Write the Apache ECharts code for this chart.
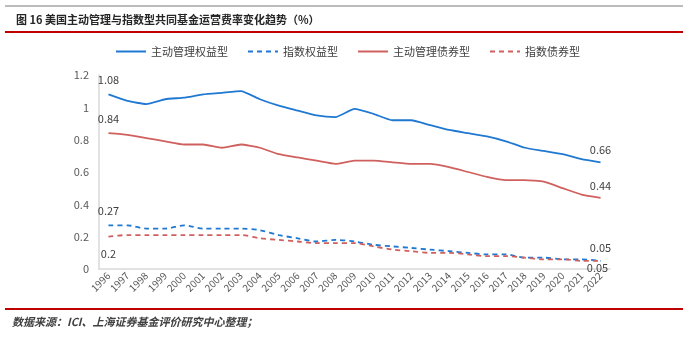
<!DOCTYPE html>
<html>
<head>
<meta charset="utf-8">
<script src="https://cdn.jsdelivr.net/npm/echarts@6/dist/echarts.min.js"></script>
<style>
html,body{margin:0;padding:0;background:#fff;}
#main{width:700px;height:337px;}
</style>
</head>
<body>
<div id="main"></div>
<script>
var years = ['1996','1997','1998','1999','2000','2001','2002','2003','2004','2005','2006','2007','2008','2009','2010','2011','2012','2013','2014','2015','2016','2017','2018','2019','2020','2021','2022'];
var activeEquity = [1.08,1.04,1.02,1.05,1.06,1.08,1.09,1.10,1.05,1.01,0.98,0.95,0.94,0.99,0.96,0.92,0.92,0.89,0.86,0.84,0.82,0.79,0.75,0.73,0.71,0.68,0.66];
var indexEquity = [0.27,0.27,0.25,0.25,0.27,0.25,0.25,0.25,0.24,0.21,0.19,0.17,0.18,0.17,0.15,0.14,0.13,0.12,0.11,0.10,0.09,0.09,0.07,0.07,0.06,0.06,0.05];
var activeBond = [0.84,0.83,0.81,0.79,0.77,0.77,0.75,0.77,0.75,0.71,0.69,0.67,0.65,0.67,0.67,0.66,0.65,0.65,0.63,0.60,0.57,0.55,0.55,0.54,0.50,0.46,0.44];
var indexBond = [0.20,0.21,0.21,0.21,0.21,0.21,0.21,0.21,0.19,0.18,0.17,0.16,0.16,0.16,0.14,0.12,0.11,0.10,0.10,0.09,0.08,0.08,0.07,0.06,0.06,0.05,0.05];
var seriesNames = ['主动管理权益型','指数权益型','主动管理债券型','指数债券型'];
var yTicks = [0,0.2,0.4,0.6,0.8,1,1.2];
var titleText = '图 16 美国主动管理与指数型共同基金运营费率变化趋势（%）';
var sourceText = '数据来源：ICI、上海证券基金评价研究中心整理；';

var BLUE = '#1f78d1';
var RED = '#d0605d';
var FONT = '"Noto Sans CJK SC", "Noto Sans", sans-serif';

function withEndLabels(arr, firstPos, lastPos) {
  return arr.map(function (v, i) {
    if (i === 0 || i === arr.length - 1) {
      var p = i === 0 ? firstPos : lastPos;
      return {
        value: v,
        symbol: 'circle',
        symbolSize: 0.1,
        label: {
          show: true,
          position: p.position,
          distance: p.distance,
          offset: p.offset || [0, 0],
          color: '#404040',
          fontSize: 11,
          fontFamily: FONT,
          formatter: function (d) { return String(d.value); }
        }
      };
    }
    return v;
  });
}

var chart = echarts.init(document.getElementById('main'), null, {renderer: 'canvas'});
chart.setOption({
  backgroundColor: '#fff',
  animation: false,
  title: {
    text: titleText,
    left: 11,
    top: 9,
    textStyle: {fontSize: 11, fontWeight: 'bold', color: '#262626', fontFamily: FONT}
  },
  graphic: [
    {type: 'line', shape: {x1: 5, y1: 6, x2: 683, y2: 6}, style: {stroke: '#a6a6a6', lineWidth: 1.5}},
    {type: 'line', shape: {x1: 5, y1: 32, x2: 683, y2: 32}, style: {stroke: '#c00000', lineWidth: 2}},
    {type: 'line', shape: {x1: 5, y1: 309, x2: 683, y2: 309}, style: {stroke: '#c00000', lineWidth: 2}},
    {type: 'text', left: 12, top: 316, style: {text: sourceText, fill: '#404040', font: 'italic bold 11px ' + FONT}}
  ],
  legend: {
    data: seriesNames,
    left: 110,
    top: 41,
    itemWidth: 30,
    itemHeight: 10,
    itemGap: 19,
    itemStyle: {opacity: 0},
    textStyle: {fontSize: 11, color: '#404040', fontFamily: FONT}
  },
  grid: {left: 99, right: 90, top: 75, bottom: 68, containLabel: false},
  xAxis: {
    type: 'category',
    data: years,
    boundaryGap: true,
    axisLine: {show: true, lineStyle: {color: '#d9d9d9', width: 1.5}},
    axisTick: {show: false},
    axisLabel: {rotate: 45, fontSize: 10, color: '#595959', margin: 5, interval: 0, fontFamily: FONT}
  },
  yAxis: {
    type: 'value',
    min: yTicks[0],
    max: yTicks[yTicks.length - 1],
    interval: 0.2,
    axisLine: {show: true, lineStyle: {color: '#d9d9d9', width: 1.5}},
    axisTick: {show: false},
    splitLine: {show: false},
    axisLabel: {fontSize: 11, color: '#595959', margin: 10, fontFamily: FONT}
  },
  series: [
    {
      name: seriesNames[0], type: 'line', symbol: 'none', smooth: 0.15,
      lineStyle: {color: BLUE, width: 1.8}, itemStyle: {color: BLUE},
      data: withEndLabels(activeEquity, {position: 'top', distance: 9}, {position: 'top', distance: 7})
    },
    {
      name: seriesNames[1], type: 'line', symbol: 'none', smooth: 0.3,
      lineStyle: {color: BLUE, width: 1.8, type: [5, 4]}, itemStyle: {color: BLUE},
      data: withEndLabels(indexEquity, {position: 'top', distance: 9}, {position: 'top', distance: 8})
    },
    {
      name: seriesNames[2], type: 'line', symbol: 'none', smooth: 0.15,
      lineStyle: {color: RED, width: 1.8}, itemStyle: {color: RED},
      data: withEndLabels(activeBond, {position: 'top', distance: 9}, {position: 'top', distance: 7})
    },
    {
      name: seriesNames[3], type: 'line', symbol: 'none', smooth: 0.3,
      lineStyle: {color: RED, width: 1.8, type: [5, 4]}, itemStyle: {color: RED},
      data: withEndLabels(indexBond, {position: 'bottom', distance: 12}, {position: 'bottom', distance: 1, offset: [-3, 0]})
    }
  ]
});
</script>
</body>
</html>
